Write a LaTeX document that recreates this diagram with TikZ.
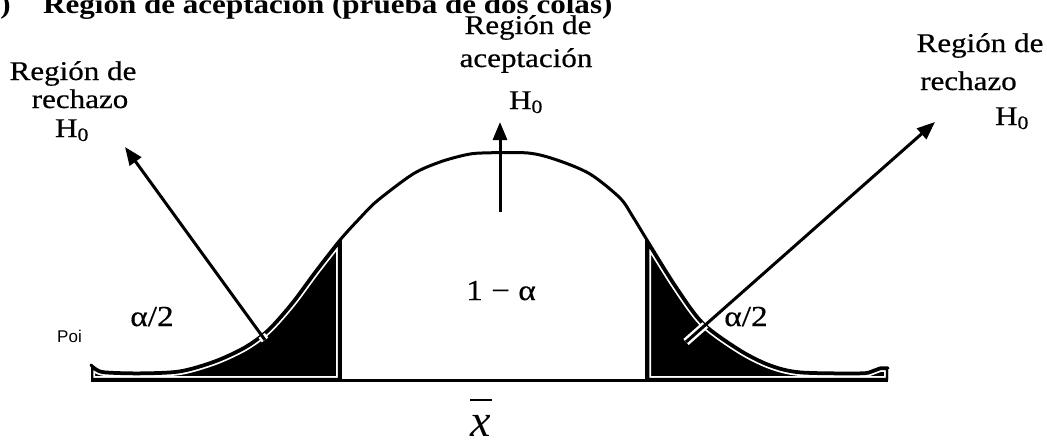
\documentclass[tikz,border=0pt]{standalone}
\usepackage{fontspec}
\setmainfont{Liberation Serif}[FakeStretch=1.15]
\newfontfamily\lblfont{Liberation Serif}[FakeStretch=1.15, FakeBold=0.5]
\newfontfamily\arialfont{Liberation Sans}
\newfontfamily\plainserif{Liberation Serif}
\usetikzlibrary{arrows.meta,calc}
\begin{document}
\begin{tikzpicture}[x=1pt,y=-1pt,
  lbl/.style={font=\lblfont\fontsize{27}{31}\selectfont, inner sep=0pt, anchor=base},
  inlbl/.style={font=\lblfont\fontsize{29}{33}\selectfont, inner sep=0pt, anchor=base},
  ttl/.style={font=\fontsize{27}{31}\selectfont\bfseries, inner sep=0pt},
  arr/.style={line width=3pt, -{Triangle[length=18pt,width=14pt]}},
  halo/.style={white, line width=8pt},
  curvestroke/.style={line width=3pt, line join=round, line cap=round},
  cutline/.style={line width=3.5pt},
  leftregion/.style={insert path={(91,380) -- plot[smooth] coordinates {(91,365) (96,369) (105,372) (140,373) (180,371) (215,361) (245,347) (268,330) (292,303) (315,272) (340,240)} -- (340,380) -- cycle}},
  rightregion/.style={insert path={(647,380) -- plot[smooth] coordinates {(647,240) (675,285) (703,323) (740,350) (770,365) (800,372) (860,373) (872,371) (880,368) (888,368)} -- (888,380) -- cycle}},
]
\useasboundingbox (0,0) rectangle (1047,442);

% shaded tails
\fill[black, leftregion];
\fill[black, rightregion];
\begin{scope}
  \clip[leftregion];
  \draw[white, line width=8pt, line join=round, leftregion];
  \draw[black, line width=4.5pt, line join=round, leftregion];
\end{scope}
\begin{scope}
  \clip[rightregion];
  \draw[white, line width=8pt, line join=round, rightregion];
  \draw[black, line width=4.5pt, line join=round, rightregion];
\end{scope}

% density curve
\draw[curvestroke] plot[smooth] coordinates {(91,365) (96,369) (105,372) (140,373) (180,371) (215,361) (245,347) (268,330) (292,303) (315,272) (340,240) (360,218) (377,201) (413,174) (440,162) (465,155) (482,153) (528,153) (557,160) (590,174) (620,198) (633,217) (647,240) (675,285) (703,323) (740,350) (770,365) (800,372) (860,373) (872,371) (880,368) (888,368)};

% axis and cut lines
\coordinate (axL) at (91,380);
\coordinate (axR) at (888,380);
\coordinate (cutLtop) at (340,240);
\coordinate (cutLbot) at (340,380);
\coordinate (cutRtop) at (647,240);
\coordinate (cutRbot) at (647,380);
\draw[line width=3pt] (axL) -- (axR);
\draw[cutline] (cutLtop) -- (cutLbot);
\draw[cutline] (cutRtop) -- (cutRbot);

% arrows
\coordinate (lstart) at (265,340);
\coordinate (ltip) at (125,147);
\coordinate (rstart) at (686,342);
\coordinate (rtip) at (935,122);
\coordinate (cstart) at (500,212);
\coordinate (ctip) at (500,122);
\begin{scope}
  \clip[leftregion];
  \draw[halo] (lstart) -- (ltip);
\end{scope}
\begin{scope}
  \clip[rightregion];
  \draw[halo] (rstart) -- (rtip);
\end{scope}
\draw[arr] (lstart) -- (ltip);
\draw[arr] (rstart) -- (rtip);
\draw[arr] (cstart) -- (ctip);

% title
\node[ttl, anchor=base east] (tc) at (11,13) {c)};
\node[ttl, anchor=base west] (tt) at (43,13) {Región de aceptación (prueba de dos colas)};

% left label
\node[lbl] (l1) at (73,80) {Región de};
\node[lbl] (l2) at (80,108) {rechazo};
\node[lbl] (l3) at (72,137) {H\textsubscript{0}};

% centre label
\node[lbl] (c1) at (528,34) {Región de};
\node[lbl] (c2) at (526,67) {aceptación};
\node[lbl] (c3) at (526,109) {H\textsubscript{0}};

% right label
\node[lbl] (r1) at (980,52) {Región de};
\node[lbl, anchor=base west] (r2) at (920,90) {rechazo};
\node[lbl] (r3) at (1012,125) {H\textsubscript{0}};

% inner labels
\node[inlbl] (alL) at (152,326) {α/2};
\node[inlbl] (alR) at (746,326) {α/2};
\node[inlbl] (one) at (501,300) {1 − α};
\node[inner sep=0pt, anchor=base east, font=\arialfont\fontsize{17}{20}\selectfont] (poi) at (82,342) {Poi};

% x bar
\node[inner sep=0pt, anchor=base, font=\plainserif\fontsize{46}{50}\selectfont\itshape] (xb) at (481,436) {x};
\draw[line width=1.5pt] ($(xb.base)+(-11,-36)$) -- ($(xb.base)+(11,-36)$);
\end{tikzpicture}
\end{document}
